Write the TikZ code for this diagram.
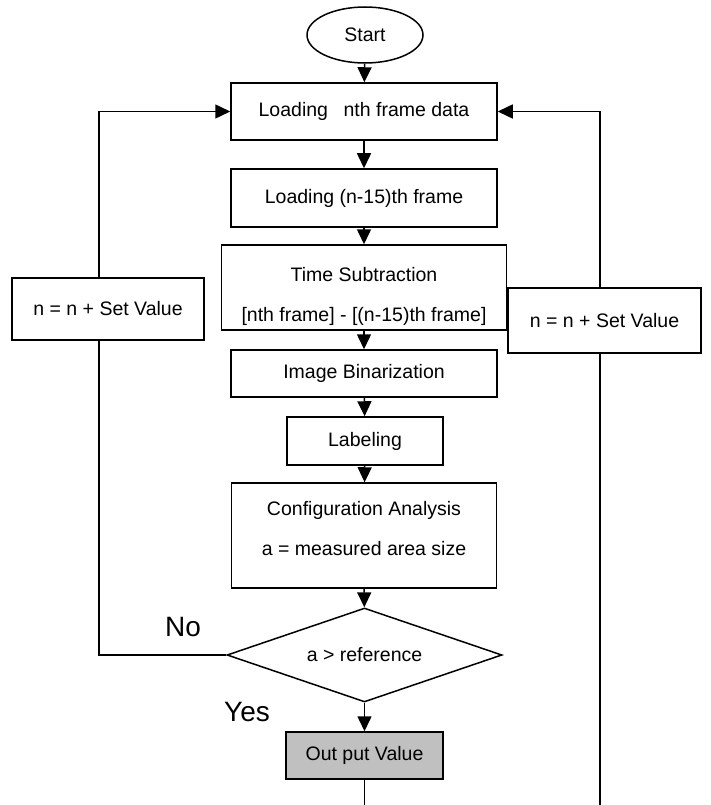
\documentclass[tikz,border=0pt]{standalone}
\usepackage{fontspec}
\setmainfont{Liberation Sans}
\usetikzlibrary{positioning, shapes.geometric, arrows.meta, calc}
\definecolor{outgray}{RGB}{192,192,192}

\begin{document}
\begin{tikzpicture}[x=1pt, y=-1pt,
                procbox/.style={draw=black, line width=1.5pt, rectangle, inner sep=0pt, align=center, font=\fontsize{19.5}{23}\selectfont},
                startnode/.style={draw=black, line width=1.5pt, ellipse, inner sep=0pt, minimum width=116pt, minimum height=56pt, font=\fontsize{19.5}{23}\selectfont},
                decision/.style={draw=black, line width=1.5pt, diamond, aspect=2.9, inner sep=0pt, minimum width=275pt, minimum height=94pt, font=\fontsize{19.5}{23}\selectfont},
                yesno/.style={inner sep=0pt, font=\fontsize{28}{32}\selectfont},
                edge/.style={line width=1.5pt},
                arr/.style={edge, -{Triangle[length=15pt, width=14pt]}}
            ]
            \useasboundingbox (0,0) rectangle (711,805);

            % Knoten
            \node[startnode] (start) at (365,35) {Start};
            \node[procbox, minimum width=266pt, minimum height=57pt] (load) at (364,111.5) {Loading\hspace{0.8em}nth frame data};
            \node[procbox, minimum width=266pt, minimum height=58pt] (loadold) at (364,198) {Loading (n-15)th frame};
            \node[procbox, minimum width=285pt, minimum height=85pt] (sub) at (364,287.5) {\rule{0pt}{32pt}Time Subtraction\\[17pt]{[}nth frame] - [(n-15)th frame]};
            \node[procbox, minimum width=266pt, minimum height=47pt] (bin) at (364,373.5) {Image Binarization};
            \node[procbox, minimum width=156pt, minimum height=48pt] (label) at (365,441) {Labeling};
            \node[procbox, minimum width=265pt, minimum height=105pt] (conf) at (364,535.5) {Configuration Analysis\\[17pt]a = measured area size\rule[-15pt]{0pt}{0pt}};
            \node[decision] (cmp) at (364.5,655) {a > reference};
            \node[procbox, fill=outgray, minimum width=157pt, minimum height=47pt] (out) at (364.5,755.5) {Out put Value};
            \node[procbox, minimum width=192pt, minimum height=62pt] (nleft) at (108,309) {n = n + Set Value};
            \node[procbox, minimum width=193pt, minimum height=65pt] (nright) at (604.5,320.5) {n = n + Set Value};
            \node[yesno] (no) at (183,627) {No};
            \node[yesno] (yes) at (247,712) {Yes};

            % Kanten zwischen Knoten
            \draw[arr] (start) -- (load);
            \draw[arr] (load) -- (loadold);
            \draw[arr] (loadold) -- (sub);
            \draw[arr] (sub) -- (bin);
            \draw[arr] (bin) -- (label);
            \draw[arr] (label) -- (conf);
            \draw[arr] (conf) -- (cmp);
            \draw[arr] (cmp) -- (out);

            % Schleife links (No)
            \coordinate (lbot) at ([xshift=-9pt]nleft.south);
            \coordinate (ltop) at ([xshift=-9pt]nleft.north);
            \draw[edge] (cmp.west) -| (lbot);
            \draw[arr] (ltop) |- (load.west);

            % Schleife rechts
            \coordinate (rend) at (600,805);
            \draw[edge] (rend) -- (rend |- nright.south);
            \draw[arr] (rend |- nright.north) |- (load.east);

            % Ausgang
            \coordinate (oend) at (out.south |- rend);
            \draw[edge] (out.south) -- (oend);

        \end{tikzpicture}
\end{document}
